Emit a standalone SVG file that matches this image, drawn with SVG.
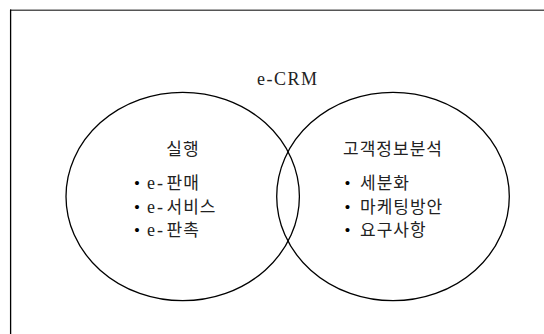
<svg xmlns="http://www.w3.org/2000/svg" width="544" height="334" viewBox="0 0 544 334">
<style>
.ell{fill:none;stroke:#000;stroke-width:1.3}
.t{font-family:"Liberation Serif","Noto Sans CJK KR",serif;font-size:18px;fill:#222}
.d{letter-spacing:2px}
.k{font-family:"Noto Sans CJK KR","Liberation Sans",sans-serif;font-size:17px;fill:#222;letter-spacing:1px}
.b{font-family:"Liberation Serif",serif;font-size:17px;fill:#000}
</style>
<rect width="544" height="334" fill="#fff"/>
<g id="frame">
<path d="M10 10.3H544" stroke="#555" stroke-width="1.6" fill="none"/>
<path d="M10.6 9.5V334" stroke="#000" stroke-width="1.3" fill="none"/>
</g>
<g id="title">
<text class="t" x="257" y="85" letter-spacing="1.5">e-CRM</text>
</g>
<g id="left">
<ellipse class="ell" cx="182.7" cy="196.5" rx="116.7" ry="104.2"/>
<text class="k" x="183" y="155" text-anchor="middle">실행</text>
<text y="189"><tspan class="b" x="134">•</tspan><tspan class="t d" x="147">e-</tspan><tspan class="k" x="166.5">판매</tspan></text>
<text y="212.5"><tspan class="b" x="134">•</tspan><tspan class="t d" x="147">e-</tspan><tspan class="k" x="166.5">서비스</tspan></text>
<text y="236"><tspan class="b" x="134">•</tspan><tspan class="t d" x="147">e-</tspan><tspan class="k" x="166.5">판촉</tspan></text>
</g>
<g id="right">
<ellipse class="ell" cx="393" cy="196.5" rx="116.3" ry="104.2"/>
<text class="k" x="393" y="155" text-anchor="middle">고객정보분석</text>
<text y="189"><tspan class="b" x="344.5">•</tspan><tspan class="k" x="360">세분화</tspan></text>
<text y="212.5"><tspan class="b" x="344.5">•</tspan><tspan class="k" x="360">마케팅방안</tspan></text>
<text y="236"><tspan class="b" x="344.5">•</tspan><tspan class="k" x="360">요구사항</tspan></text>
</g>
<g id="connectors"/>
</svg>
